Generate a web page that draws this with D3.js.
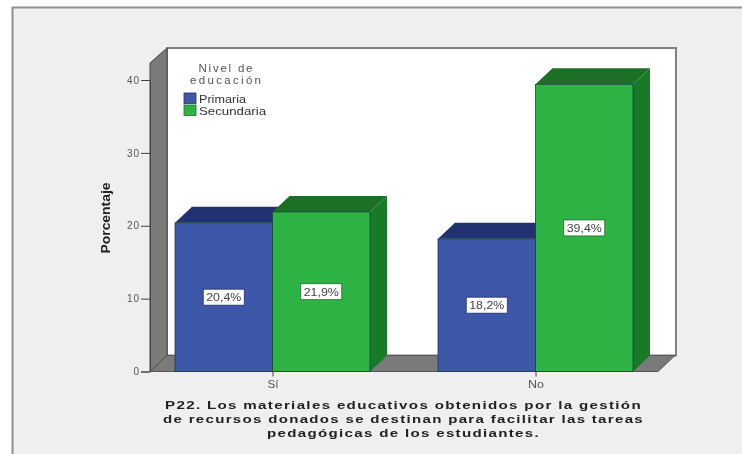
<!DOCTYPE html>
<html><head><meta charset="utf-8">
<script src="https://cdn.jsdelivr.net/npm/d3@7/dist/d3.min.js"></script>
<style>html,body{margin:0;padding:0;background:#fff}svg{display:block}text{font-family:"Liberation Sans",Arial,sans-serif}</style>
</head><body><svg id="c" width="742" height="454"></svg>
<script>
const categories = ["Sí","No"];
const seriesNames = ["Primaria","Secundaria"];
const primaria = [20.4,18.2];
const secundaria = [21.9,39.4];
const labels = [["20,4%","18,2%"],["21,9%","39,4%"]];
const yTicks = [0,10,20,30,40];
const titleLines = ["P22. Los materiales educativos obtenidos por la gestión","de recursos donados se destinan para facilitar las tareas","pedagógicas de los estudiantes."];
const titleWidths = [477,481,273];
const legendTitle = ["Nivel de","educación"];
const legendTitleWidths = [54,71];
const legendWidths = [47,67];
const colors = {front:["#3c58a8","#2db345"],top:["#22316f","#1c6f25"],side:["#22316f","#187a26"]};

const svg = d3.select("#c");
const defs = svg.append("defs");
defs.append("filter").attr("id","soft").attr("x","-5%").attr("y","-5%").attr("width","110%").attr("height","110%")
  .append("feGaussianBlur").attr("stdDeviation",0.55);
const root = svg.append("g").attr("filter","url(#soft)");

const dx = 17, dy = 16;
const y = d3.scaleLinear().domain([0,40]).range([371.5,80]);
const catCenter = {"Sí":273,"No":536};
const x1 = d3.scaleBand().domain([0,1]).range([-98,97]);

root.append("rect").attr("x",12.5).attr("y",7.5).attr("width",760).attr("height",480)
  .attr("fill","#efefef").attr("stroke","#8f8f8f").attr("stroke-width",2);

const L=150,R=658,B=y(0),T=32;
root.append("rect").attr("x",L+dx).attr("y",T+dy).attr("width",R-L+1).attr("height",B-T-dy*2)
  .attr("fill","#fff").attr("stroke","#7f7f7f").attr("stroke-width",2);
root.append("polygon").attr("points",[[L,B],[L+dx,B-dy],[L+dx,T+dy],[L,T+2*dy-1]].join(" "))
  .attr("fill","#7a7a7a").attr("stroke","#444");
root.append("polygon").attr("points",[[L,B],[R,B],[R+dx,B-dy],[L+dx,B-dy]].join(" "))
  .attr("fill","#7a7a7a").attr("stroke","#555");

const axisL = d3.axisLeft(y).tickValues(yTicks).tickSize(9).tickPadding(1).tickFormat(d3.format("d"));
const gy = root.append("g").attr("transform",`translate(${L},0)`).call(axisL);
gy.select(".domain").attr("stroke","#444");
gy.selectAll("line").attr("stroke","#444");
gy.selectAll("text").attr("font-size",10).attr("fill","#555").style("letter-spacing","1px");

const series=[primaria,secundaria];
series.forEach((vals,s)=>{
  vals.forEach((v,i)=>{
    const cx=catCenter[categories[i]];
    const xa=cx+x1(s), w=x1.bandwidth(), yt=y(v);
    root.append("polygon").attr("points",[[xa,yt],[xa+w,yt],[xa+w+dx,yt-dy],[xa+dx,yt-dy]].join(" "))
      .attr("fill",colors.top[s]);
    root.append("polygon").attr("points",[[xa+w,yt],[xa+w+dx,yt-dy],[xa+w+dx,B-dy],[xa+w,B]].join(" "))
      .attr("fill",colors.side[s]);
    root.append("rect").attr("x",xa).attr("y",yt).attr("width",w).attr("height",B-yt)
      .attr("fill",colors.front[s]).attr("stroke","#1c4040").attr("stroke-width",.8);
  });
});
series.forEach((vals,s)=>vals.forEach((v,i)=>{
  const cx=catCenter[categories[i]]+x1(s)+x1.bandwidth()/2, cy=y(v/2);
  root.append("rect").attr("x",cx-20.5).attr("y",cy-8).attr("width",41).attr("height",16).attr("fill","#fff").attr("stroke",colors.top[s]).attr("stroke-width",.8);
  root.append("text").attr("x",cx).attr("y",cy+4).attr("text-anchor","middle").attr("font-size",11).attr("fill","#444")
    .attr("textLength",35).attr("lengthAdjust","spacingAndGlyphs").text(labels[s][i]);
}));

categories.forEach(c=>{
  const cx=catCenter[c];
  root.append("line").attr("x1",cx).attr("x2",cx).attr("y1",B).attr("y2",B+5).attr("stroke","#444");
  root.append("text").attr("x",cx).attr("y",B+16).attr("text-anchor","middle").attr("font-size",10).attr("fill","#555")
    .attr("textLength",c==="No"?16:11).attr("lengthAdjust","spacingAndGlyphs").text(c);
});

root.append("text").attr("transform","translate(110,218) rotate(-90)").attr("text-anchor","middle")
  .attr("font-size",13).attr("font-weight","bold").attr("fill","#222").attr("textLength",71).attr("lengthAdjust","spacingAndGlyphs").text("Porcentaje");

titleLines.forEach((t,i)=>root.append("text").attr("x",403.5).attr("y",409+i*14).attr("text-anchor","middle")
  .attr("font-size",11.5).attr("font-weight","bold").attr("fill","#222").style("letter-spacing","1px")
  .attr("textLength",titleWidths[i]).attr("lengthAdjust","spacingAndGlyphs").text(t));

legendTitle.forEach((t,i)=>root.append("text").attr("x",225.5).attr("y",72+i*12).attr("text-anchor","middle")
  .attr("font-size",11.5).attr("fill","#555").attr("textLength",legendTitleWidths[i]).attr("lengthAdjust","spacing").text(t));
seriesNames.forEach((n,i)=>{
  const yy=93+i*12;
  root.append("rect").attr("x",184).attr("y",yy).attr("width",12).attr("height",10.5).attr("fill",colors.front[i]).attr("stroke",colors.top[i]).attr("stroke-width",.8);
  root.append("text").attr("x",199).attr("y",yy+9.5).attr("font-size",10.5).attr("fill","#333")
    .attr("textLength",legendWidths[i]).attr("lengthAdjust","spacingAndGlyphs").text(n);
});
</script></body></html>
